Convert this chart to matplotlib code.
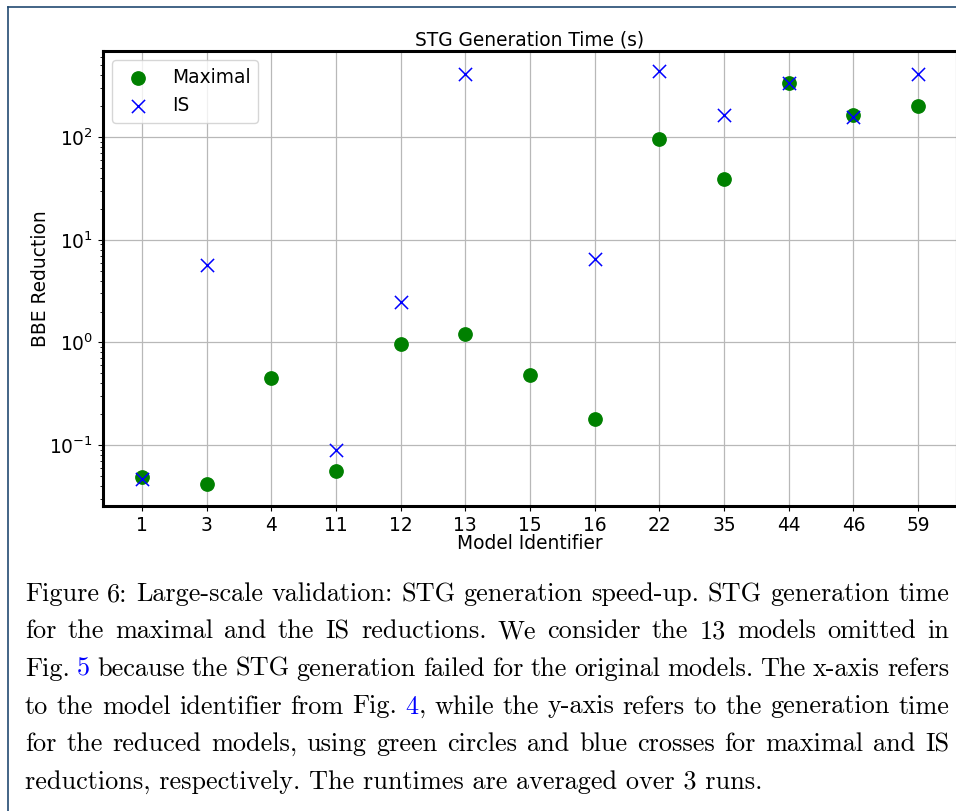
import numpy as np
import matplotlib
matplotlib.use("Agg")
import matplotlib.pyplot as plt
from matplotlib.lines import Line2D

# ---- data ----
model_ids = ["1", "3", "4", "11", "12", "13", "15", "16", "22", "35", "44", "46", "59"]
maximal = [0.049, 0.0414, 0.452, 0.0558, 0.956, 1.197, 0.484, 0.179, 95.4, 38.9, 335, 163, 199]
is_red = [0.0467, 5.66, np.nan, 0.0894, 2.47, 410, np.nan, 6.52, 436, 164, 340, 157, 416]

title = "STG Generation Time (s)"
xlabel = "Model Identifier"
ylabel = "BBE Reduction"

caption_lines = [
    "Figure 6: Large-scale validation: STG generation speed-up. STG generation time",
    "for the maximal and the IS reductions. We consider the 13 models omitted in",
    [[("Fig.", "k")], [("5", "blue")]] + [[(w, "k")] for w in
     "because the STG generation failed for the original models. The x-axis refers".split()],
    [[(w, "k")] for w in "to the model identifier from Fig.".split()] + [[("4", "blue"), (",", "k")]] +
    [[(w, "k")] for w in "while the y-axis refers to the generation time".split()],
    "for the reduced models, using green circles and blue crosses for maximal and IS",
    "reductions, respectively. The runtimes are averaged over 3 runs.",
]

W, H = 956, 811
fig = plt.figure(figsize=(W / 100, H / 100), dpi=100)
fs = 13.4

ax = fig.add_axes([103 / W, 1 - 506 / H, 854 / W, 455 / H])
x = np.arange(len(model_ids))
ax.scatter(x, maximal, s=92, color="green", label="Maximal", zorder=3)
ax.scatter(x, is_red, s=90, marker="x", color="blue", label="IS", zorder=4, linewidths=1.1)
ax.set_yscale("log")
ax.set_xticks(x)
ax.set_xticklabels(model_ids)
ax.set_xlim(-0.6, len(model_ids) - 0.4)
ax.set_ylim(0.0255, 690)
ax.grid(True, which="major", color="#b8b8b8", linewidth=0.9)
ax.set_axisbelow(True)
for sp in ax.spines.values():
    sp.set_linewidth(2.2)
ax.tick_params(labelsize=fs)
ax.set_title(title, fontsize=fs, pad=4)
ax.set_xlabel(xlabel, fontsize=fs, labelpad=-0.5)
ax.set_ylabel(ylabel, fontsize=fs, labelpad=-0.5)
ax.legend(loc="upper left", fontsize=fs)

# border lines (page frame)
fig.add_artist(Line2D([7.5 / W, 7.5 / W], [0, 1 - 7 / H], transform=fig.transFigure,
                      color="#234a72", lw=1.2))
fig.add_artist(Line2D([7.5 / W, 1], [1 - 7 / H, 1 - 7 / H], transform=fig.transFigure,
                      color="#234a72", lw=1.2))

# caption, justified
renderer = fig.canvas.get_renderer()
left_px, right_px = 25, 949
last_end_px = 762
baselines = [601, 638.5, 676, 713.5, 751, 788.5]


def seg_width(txt, size):
    t = fig.text(0, 0, txt, family="cmr10", fontsize=size)
    w = t.get_window_extent(renderer).width
    t.remove()
    return w


# fit font size to the natural width of the last (unjustified) line
base = 16.0
w0 = seg_width(caption_lines[-1], base)
cfs = base * (last_end_px - left_px) / w0
font = dict(family="cmr10", fontsize=cfs)

for i, line in enumerate(caption_lines):
    if isinstance(line, str):
        words = [[(w, "k")] for w in line.split()]
    else:
        words = line
    last = i == len(caption_lines) - 1
    if last:
        fig.text(left_px / W, 1 - baselines[i] / H, line, va="baseline", ha="left", **font)
        continue
    widths = [[seg_width(s, cfs) for s, _ in wd] for wd in words]
    total = sum(sum(ws) for ws in widths)
    gap = (right_px - left_px - total) / (len(words) - 1)
    xp = left_px
    yb = 1 - baselines[i] / H
    for wd, ws in zip(words, widths):
        for (s, c), w in zip(wd, ws):
            fig.text(xp / W, yb, s, color=c, va="baseline", ha="left", **font)
            xp += w
        xp += gap

fig.savefig("out.png", dpi=100)
